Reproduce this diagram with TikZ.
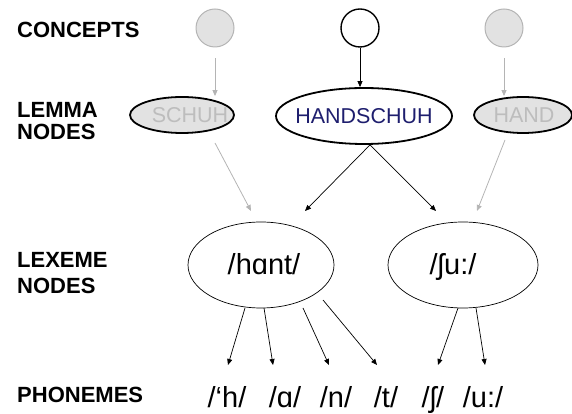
\documentclass[tikz,border=0pt]{standalone}
\usepackage{fontspec}
\setmainfont{Liberation Sans}
\usetikzlibrary{arrows.meta,shapes.geometric}
\definecolor{lgray}{HTML}{E2E2E2}
\definecolor{mgray}{HTML}{B4B4B4}
\definecolor{tgray}{HTML}{BDBDBD}
\definecolor{navy}{RGB}{30,30,110}
\begin{document}
\begin{tikzpicture}[x=1pt,y=1pt,
  lbl/.style={font=\fontsize{22}{24}\selectfont\bfseries, anchor=west, inner sep=0pt},
  concept/.style={circle, minimum size=38pt, inner sep=0pt, draw=mgray, fill=lgray, line width=1pt},
  concepton/.style={concept, draw=black, fill=white, line width=1.4pt},
  lemma/.style={ellipse, inner sep=0pt, draw=black, fill=lgray, line width=1.8pt,
    text=tgray, font=\fontsize{21.5}{24}\selectfont},
  lexeme/.style={ellipse, inner sep=0pt, draw=black, line width=0.7pt,
    minimum width=146pt, minimum height=86pt, text height=20pt, text depth=0pt,
    font=\fontsize{29}{32}\selectfont},
  phon/.style={anchor=base, inner sep=0pt, font=\fontsize{29}{32}\selectfont},
  barr/.style={draw=black, line width=0.7pt, -{Triangle[length=6pt,width=5pt]}},
  garr/.style={draw=mgray, line width=0.8pt, -{Triangle[length=6pt,width=5pt]}}
]
\useasboundingbox (0,0) rectangle (572,414);

% row labels
\node[lbl] (lc) at (17,384.5) {CONCEPTS};
\node[lbl] (llm) at (17,304) {LEMMA};
\node[lbl] (lln) at (17,282.5) {NODES};
\node[lbl] (lxm) at (17,154) {LEXEME};
\node[lbl] (lxn) at (17,128) {NODES};
\node[lbl] (lph) at (17,19.5) {PHONEMES};

% concepts
\node[concept] (c1) at (215,386) {};
\node[concepton] (c2) at (360,386) {};
\node[concept] (c3) at (504,386) {};

% lemma nodes
\node[lemma, minimum width=104pt, minimum height=36pt] (s1) at (182,299) {\makebox[0pt]{\hspace*{16pt}SCHUH}};
\node[lemma, fill=white, text=navy, minimum width=176pt, minimum height=56pt] (h) at (364,298) {\makebox[0pt]{HANDSCHUH}};
\node[lemma, minimum width=98pt, minimum height=36pt] (s3) at (523,299) {\makebox[0pt]{\hspace*{2pt}HAND}};

% lexeme nodes
\node[lexeme] (l1) at (261,149) {\makebox[0pt]{\hspace*{6pt}/hɑnt/}};
\node[lexeme, minimum width=150pt] (l2) at (463,149) {\makebox[0pt]{/ʃu:/\hspace*{20pt}}};

% phonemes
\node[phon] (p1) at (227,6) {/‘h/};
\node[phon] (p2) at (285,6) {/ɑ/};
\node[phon] (p3) at (336,6) {/n/};
\node[phon] (p4) at (386,6) {/t/};
\node[phon] (p5) at (433,6) {/ʃ/};
\node[phon] (p6) at (483,6) {/u:/};

% concept -> lemma
\draw[garr] ([yshift=-11pt]c1.south) -- (c1 |- s1.north);
\draw[barr] (c2.south) -- (c2 |- h.north);
\draw[garr] ([yshift=-11pt]c3.south) -- (c3 |- s3.north);

% lemma -> lexeme
\draw[barr] ([xshift=6pt]h.south) -- ([shift={(44pt,54pt)}]l1.center);
\draw[barr] ([xshift=6pt]h.south) -- ([shift={(-27pt,54pt)}]l2.center);
\draw[garr] ([shift={(33pt,-28pt)}]s1.center) -- ([shift={(-10pt,54pt)}]l1.center);
\draw[garr] ([shift={(-18pt,-25pt)}]s3.center) -- ([shift={(14pt,54pt)}]l2.center);

% lexeme -> phonemes
\draw[barr] ([shift={(-16pt,-43pt)}]l1.center) -- ([shift={(1pt,43pt)}]p1.base);
\draw[barr] ([shift={(3pt,-43pt)}]l1.center) -- ([shift={(-12pt,43pt)}]p2.base);
\draw[barr] ([shift={(42pt,-43pt)}]l1.center) -- ([shift={(-7pt,43pt)}]p3.base);
\draw[barr] ([shift={(62pt,-35pt)}]l1.center) -- ([shift={(-9pt,43pt)}]p4.base);
\draw[barr] ([shift={(-5pt,-43pt)}]l2.center) -- ([shift={(5pt,43pt)}]p5.base);
\draw[barr] ([shift={(13pt,-43pt)}]l2.center) -- ([shift={(2pt,43pt)}]p6.base);
\end{tikzpicture}
\end{document}
